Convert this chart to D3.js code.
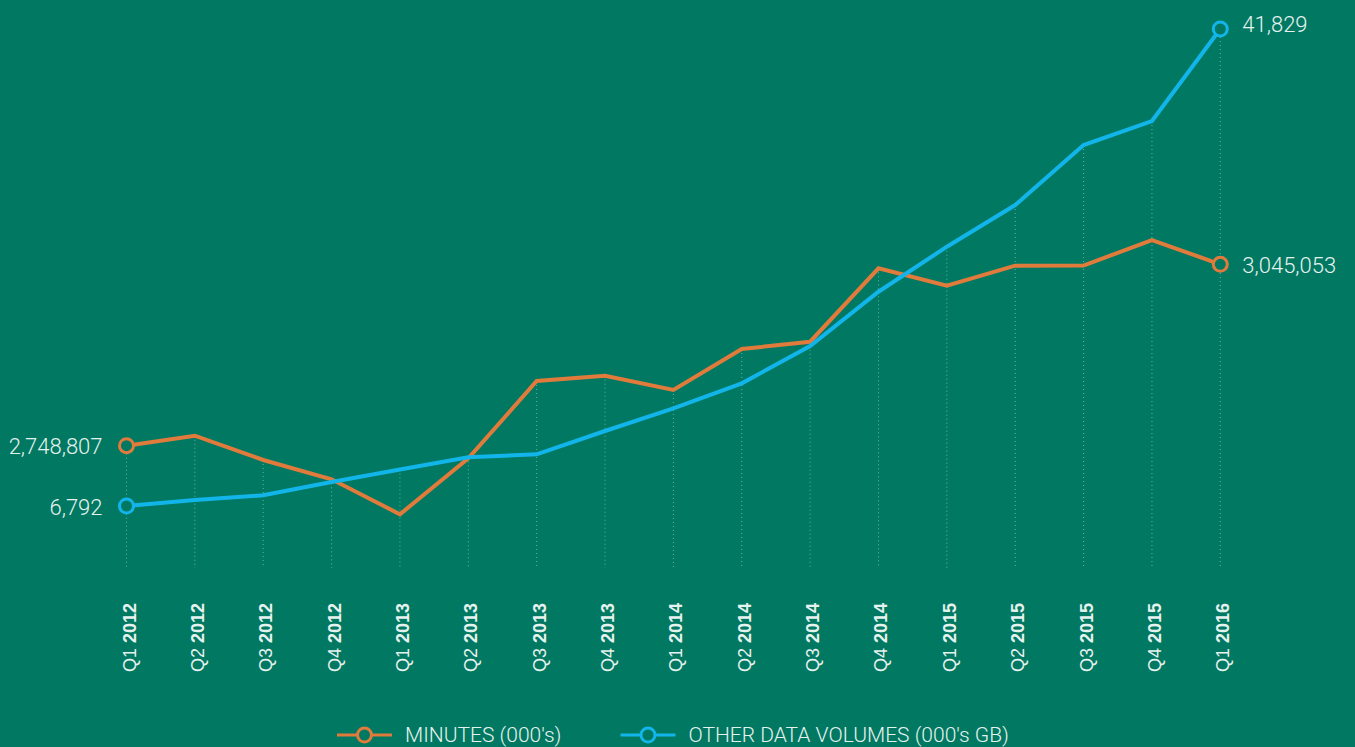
<!DOCTYPE html>
<html>
<head>
<meta charset="utf-8">
<script src="https://cdn.jsdelivr.net/npm/d3@7"></script>
<style>
	html, body { margin: 0; padding: 0; background: #017862; }
	svg { display: block; font-family: Roboto, "Noto Sans", sans-serif; }
</style>
</head>
<body>
<div id="chart-area"></div>
<script>
// ** Data **
var quarters = ["Q1", "Q2", "Q3", "Q4", "Q1", "Q2", "Q3", "Q4", "Q1", "Q2", "Q3", "Q4", "Q1", "Q2", "Q3", "Q4", "Q1"];
var years = ["2012", "2012", "2012", "2012", "2013", "2013", "2013", "2013", "2014", "2014", "2014", "2014", "2015", "2015", "2015", "2015", "2016"];
// MINUTES (000's)
var minutes = [2748807, 2765100, 2725500, 2693900, 2636800, 2728200, 2854500, 2863100, 2839800,
	2906700, 2918600, 3038500, 3010100, 3042800, 3043000, 3084700, 3045053];
// OTHER DATA VOLUMES (000's GB)
var dataVolumes = [6792, 7233, 7578, 8555, 9473, 10369, 10589, 12301, 13968,
	15804, 18544, 22532, 25838, 28900, 33307, 35070, 41829];
var seriesNames = ["MINUTES (000's)", "OTHER DATA VOLUMES (000's GB)"];

var periods = quarters.map(function(q, i){ return q + " " + years[i]; });

// ** Dimensions **
var width = 1355;
var height = 747;
var gridBottom = 568;

var orange = "#e07b3c";
var blue = "#12b5ea";
var bg = "#017862";
var textColor = "#e6f2ee";

var svg = d3.select("#chart-area")
	.append("svg")
	.attr("width", width)
	.attr("height", height);

svg.append("rect")
	.attr("width", width)
	.attr("height", height)
	.attr("fill", bg);

// Scales
var x = d3.scalePoint()
	.domain(periods)
	.range([126.5, 1220.3]);
// each series has its own vertical scale
var yMinutes = d3.scaleLinear()
	.domain([minutes[0], minutes[minutes.length - 1]])
	.range([445.7, 264.3]);
var yData = d3.scaleLinear()
	.domain([dataVolumes[0], dataVolumes[dataVolumes.length - 1]])
	.range([506, 29]);

// Dotted guides
svg.append("g")
	.selectAll("line")
	.data(periods)
	.enter()
	.append("line")
	.attr("x1", function(d){ return x(d); })
	.attr("x2", function(d){ return x(d); })
	.attr("y1", function(d, i){
		return Math.min(yMinutes(minutes[i]), yData(dataVolumes[i]));
	})
	.attr("y2", gridBottom)
	.attr("stroke", "#66b3a3")
	.attr("stroke-width", 1)
	.attr("stroke-dasharray", "1,3");

// X Axis
var xAxisCall = d3.axisBottom(x)
	.tickSize(0)
	.tickFormat("");
var xAxis = svg.append("g")
	.attr("transform", "translate(0, 603)")
	.call(xAxisCall);
xAxis.select(".domain").remove();

xAxis.selectAll(".tick").each(function(d, i){
	var label = d3.select(this).append("text")
		.attr("transform", "translate(8.5, 0) rotate(-90)")
		.attr("text-anchor", "end")
		.attr("fill", textColor)
		.attr("font-size", 18);
	label.append("tspan")
		.attr("font-weight", 300)
		.text(quarters[i] + " ");
	label.append("tspan")
		.attr("font-weight", 700)
		.text(years[i]);
});

// Lines
var series = [
	{ values: minutes, scale: yMinutes, color: orange },
	{ values: dataVolumes, scale: yData, color: blue }
];
var formatValue = d3.format(",");

series.forEach(function(s){
	var line = d3.line()
		.x(function(d, i){ return x(periods[i]); })
		.y(function(d){ return s.scale(d); });

	svg.append("path")
		.datum(s.values)
		.attr("d", line)
		.attr("fill", "none")
		.attr("stroke", s.color)
		.attr("stroke-width", 4)
		.attr("stroke-linejoin", "miter");

	var last = s.values.length - 1;
	[0, last].forEach(function(i){
		svg.append("circle")
			.attr("cx", x(periods[i]))
			.attr("cy", s.scale(s.values[i]))
			.attr("r", 7)
			.attr("fill", bg)
			.attr("stroke", s.color)
			.attr("stroke-width", 3);

		svg.append("text")
			.attr("x", i == 0 ? x(periods[i]) - 24 : x(periods[i]) + 22)
			.attr("y", s.scale(s.values[i]) + (i == last && s.color == blue ? -5 : 1))
			.attr("dy", "0.35em")
			.attr("text-anchor", i == 0 ? "end" : "start")
			.attr("font-size", 22)
			.attr("font-weight", 300)
			.attr("fill", textColor)
			.text(formatValue(s.values[i]));
	});
});

// ** Legend **
var legendX = [337, 620.5];
var legend = svg.append("g")
	.attr("transform", "translate(0, 735)");

series.forEach(function(s, i){
	var row = legend.append("g")
		.attr("transform", "translate(" + legendX[i] + ", 0)");
	row.append("line")
		.attr("x1", 0)
		.attr("x2", 55)
		.attr("stroke", s.color)
		.attr("stroke-width", 3);
	row.append("circle")
		.attr("cx", 27.5)
		.attr("r", 7)
		.attr("fill", bg)
		.attr("stroke", s.color)
		.attr("stroke-width", 3);
	row.append("text")
		.attr("x", 68)
		.attr("dy", "0.35em")
		.attr("font-size", 21)
		.attr("font-weight", 300)
		.attr("fill", textColor)
		.text(seriesNames[i]);
});
</script>
</body>
</html>
